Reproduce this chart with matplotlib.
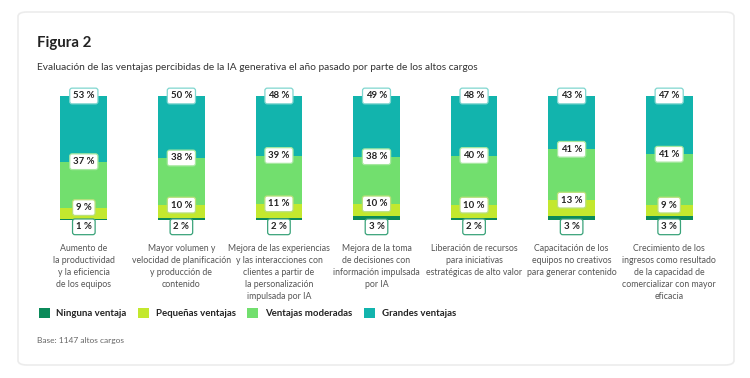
import numpy as np
import matplotlib.pyplot as plt
from matplotlib.patches import FancyBboxPatch, Patch

plt.rcParams['font.family'] = ['Lato', 'DejaVu Sans']

# Datos ------------------------------------------------------------------------
categorias = [
    "Aumento de\nla productividad\ny la eficiencia\nde los equipos",
    "Mayor volumen y\nvelocidad de planificación\ny producción de\ncontenido",
    "Mejora de las experiencias\ny las interacciones con\nclientes a partir de\nla personalización\nimpulsada por IA",
    "Mejora de la toma\nde decisiones con\ninformación impulsada\npor IA",
    "Liberación de recursos\npara iniciativas\nestratégicas de alto valor",
    "Capacitación de los\nequipos no creativos\npara generar contenido",
    "Crecimiento de los\ningresos como resultado\nde la capacidad de\ncomercializar con mayor\neficacia",
]
ninguna = [1, 2, 2, 3, 2, 3, 3]
pequenas = [9, 10, 11, 10, 10, 13, 9]
moderadas = [37, 38, 39, 38, 40, 41, 41]
grandes = [53, 50, 48, 49, 48, 43, 47]

series = ["Ninguna ventaja", "Pequeñas ventajas", "Ventajas moderadas", "Grandes ventajas"]
colores = ["#0b8a5a", "#c3e82e", "#72df6e", "#12b4ad"]
bordes = ["#3aa37a", "#b9e07a", "#a6e8a0", "#7fd6cf"]

# Figura -----------------------------------------------------------------------
fig = plt.figure(figsize=(7.5, 3.78), dpi=100)
fig.patch.set_facecolor("white")

card = FancyBboxPatch((18 / 750, 1 - 365 / 378), 716 / 750, 353 / 378,
                      boxstyle="round,pad=0,rounding_size=0.012",
                      transform=fig.transFigure, facecolor="white",
                      edgecolor="#ececec", linewidth=1.2, zorder=-5)
fig.patches.append(card)

fig.text(37 / 750, 1 - 43 / 378, "Figura 2", fontsize=10.8, fontweight="bold",
         color="#222222", va="center")
fig.text(37 / 750, 1 - 68 / 378,
         "Evaluación de las ventajas percibidas de la IA generativa el año pasado por parte de los altos cargos",
         fontsize=7.3, color="#333333", va="center")

ax = fig.add_axes([37 / 750, 1 - 220 / 378, 679 / 750, 124 / 378], zorder=2)
x = np.arange(len(categorias))
datos = [ninguna, pequenas, moderadas, grandes]
base = np.zeros(len(categorias))
for i, vals in enumerate(datos):
    ax.bar(x, vals, 0.48, bottom=base, color=colores[i], linewidth=0, zorder=2)
    for j, v in enumerate(vals):
        if i == 0:
            ypos = -5.5
        else:
            ypos = base[j] + v
        ax.text(x[j], ypos, f"{v} %", ha="center", va="center", fontsize=6.9,
                fontweight="bold", color="#222222", zorder=5, clip_on=False,
                bbox=dict(boxstyle="round,pad=0.35,rounding_size=0.25", fc="white",
                          ec=bordes[i], lw=0.9))
    base = base + np.array(vals)

ax.set_xlim(-0.48, 6.48)
ax.set_ylim(0, 100)
for s in ax.spines.values():
    s.set_visible(False)
ax.set_yticks([])
ax.set_xticks(x)
ax.set_xticklabels(categorias, fontsize=6.3, color="#555555", linespacing=1.4, va="top")
ax.tick_params(axis="x", length=2.5, width=0.6, color="#cccccc", pad=15)
ax.set_facecolor("none")

handles = [Patch(facecolor=c, edgecolor="none") for c in colores]
leg = fig.legend(handles, series, loc="center left", bbox_to_anchor=(30 / 750, 1 - 313 / 378),
                 ncol=4, frameon=False, fontsize=6.9, handlelength=1.15, handleheight=1.15,
                 handletextpad=0.7, columnspacing=1.2)
for t in leg.get_texts():
    t.set_fontweight("bold")
    t.set_color("#222222")

fig.text(37 / 750, 1 - 340 / 378, "Base: 1147 altos cargos", fontsize=6,
         color="#666666", va="center")

fig.savefig("out.png", dpi=100)
